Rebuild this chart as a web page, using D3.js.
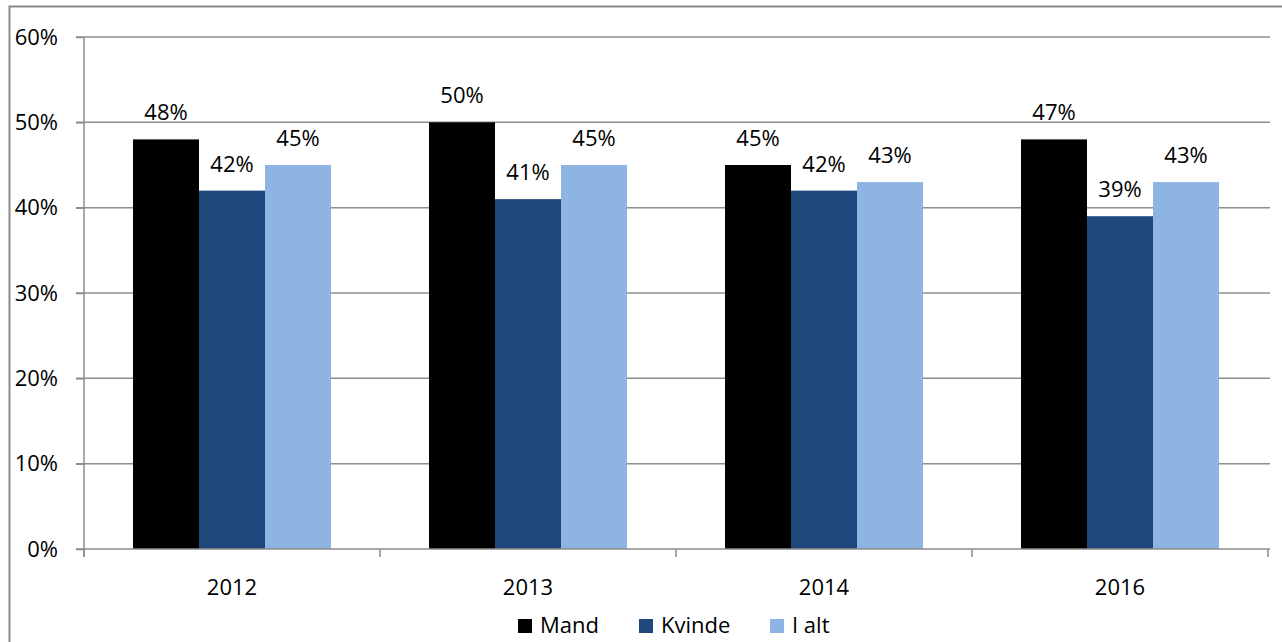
<!DOCTYPE html>
<html><head><meta charset="utf-8">
<script src="https://cdn.jsdelivr.net/npm/d3@7"></script>
<style>body{margin:0;background:#fff}svg{display:block}text{font-family:"Open Sans",sans-serif;fill:#000}</style>
</head><body><svg id="c" width="1282" height="642"></svg>
<script>
const categories = ["2012", "2013", "2014", "2016"];
const seriesNames = ["Mand", "Kvinde", "I alt"];
const mand = [48, 50, 45, 48];
const kvinde = [42, 41, 42, 39];
const ialt = [45, 45, 43, 43];
const mandLabels = ["48%", "50%", "45%", "47%"];
const kvindeLabels = ["42%", "41%", "42%", "39%"];
const ialtLabels = ["45%", "45%", "43%", "43%"];
const yTicks = [0, 10, 20, 30, 40, 50, 60];
const colors = ["#000000", "#1F497D", "#8EB4E3"];

(function () {
const series = [
  {name: seriesNames[0], values: mand, labels: mandLabels},
  {name: seriesNames[1], values: kvinde, labels: kvindeLabels},
  {name: seriesNames[2], values: ialt, labels: ialtLabels}
];

const svg = d3.select("#c");
const pL = 84, pR = 1268, pT = 37, pB = 549;
const fs = 22;

// outer border
svg.append("path").attr("d", "M9.5,642 V6.5 H1282").attr("fill", "none")
  .attr("stroke", "#8a8a8a").attr("stroke-width", 2);

const x = d3.scaleBand().domain(categories).range([pL, pR]).paddingInner(0).paddingOuter(0);
const inner = d3.scaleBand().domain(seriesNames).range([0, x.bandwidth()]).paddingOuter(49 / 66).paddingInner(0);
const y = d3.scaleLinear().domain([0, 60]).range([pB, pT]);

// gridlines
svg.append("g").selectAll("line").data(yTicks.filter(d => d > 0)).join("line")
  .attr("x1", pL - 8).attr("x2", pR + 2)
  .attr("y1", d => y(d)).attr("y2", d => y(d))
  .attr("stroke", "#8c8c8c").attr("stroke-width", 1.5);

// y axis
const yAxis = svg.append("g").attr("transform", `translate(${pL},0)`)
  .call(d3.axisLeft(y).tickValues(yTicks).tickSize(8).tickPadding(18).tickFormat(d => d + "%"));
yAxis.select(".domain").attr("stroke", "#8c8c8c").attr("stroke-width", 1.5).attr("d", `M0,${pT}V${pB + 8}`);
yAxis.selectAll(".tick line").attr("stroke", "#8c8c8c").attr("stroke-width", 1.5);
yAxis.selectAll(".tick text").attr("font-size", fs).attr("font-family", "Open Sans").attr("fill", "#000");

// bars
const g = svg.append("g");
series.forEach((s, si) => {
  g.selectAll(null).data(categories).join("rect")
    .attr("x", c => x(c) + inner(s.name))
    .attr("width", inner.bandwidth())
    .attr("y", (c, i) => y(s.values[i]))
    .attr("height", (c, i) => pB - y(s.values[i]))
    .attr("fill", colors[si]);
  g.selectAll(null).data(categories).join("text")
    .attr("x", c => x(c) + inner(s.name) + inner.bandwidth() / 2)
    .attr("y", (c, i) => y(s.values[i]) - 19)
    .attr("text-anchor", "middle").attr("font-size", fs)
    .text((c, i) => s.labels[i]);
});

// x axis
const xAxis = svg.append("g").attr("transform", `translate(0,${pB})`)
  .call(d3.axisBottom(x).tickSize(0).tickPadding(30));
xAxis.select(".domain").attr("stroke", "#8c8c8c").attr("stroke-width", 1.5).attr("d", `M${pL - 8},0H${pR + 2}`);
xAxis.selectAll(".tick text").attr("font-size", fs).attr("font-family", "Open Sans").attr("fill", "#000");
const bounds = categories.map(c => x(c)).concat([pR]);
xAxis.selectAll("line.sep").data(bounds).join("line").attr("class", "sep")
  .attr("x1", d => d).attr("x2", d => d).attr("y1", 0).attr("y2", 8)
  .attr("stroke", "#8c8c8c").attr("stroke-width", 1.5);

// legend
const legX = [518, 639, 770];
const leg = svg.append("g");
series.forEach((s, i) => {
  leg.append("rect").attr("x", legX[i]).attr("y", 619).attr("width", 14).attr("height", 14).attr("fill", colors[i]);
  leg.append("text").attr("x", legX[i] + 22).attr("y", 633).attr("font-size", fs).text(s.name);
});
})();
</script></body></html>
